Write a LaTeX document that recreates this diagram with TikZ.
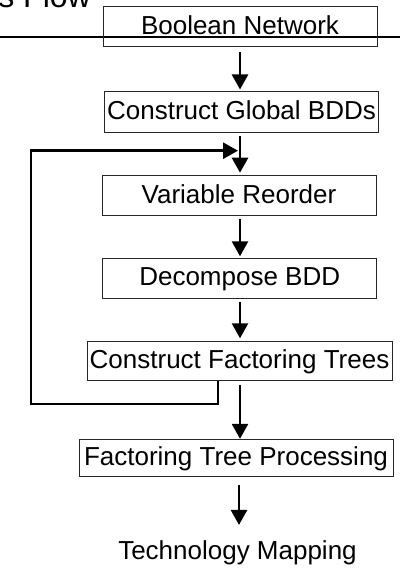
\documentclass[tikz,border=0pt]{standalone}
\usepackage{fontspec}
\setmainfont{Liberation Sans}
\usetikzlibrary{arrows.meta}
\tikzset{
  stagebox/.style={draw=black!85, line width=1pt, inner sep=0pt,
    minimum height=40pt, text height=18.7pt, text depth=4pt,
    font=\fontsize{26}{31}\selectfont},
  flow/.style={line width=2.6pt, -{Triangle[length=15pt,width=16pt]}},
}
\begin{document}
\begin{tikzpicture}[x=1pt,y=-1pt]
\useasboundingbox (0,0) rectangle (400,575);

% slide title (mostly above the page edge) and rule
\node[anchor=base east, inner sep=0pt, font=\fontsize{32}{38}\selectfont] (title) at (91,8) {s Flow};
\coordinate (ruleL) at (0,37);
\coordinate (ruleR) at (400,37);
\draw[line width=2pt] (ruleL) -- (ruleR);

% flow stages
\node[stagebox, minimum width=274pt] (bn)  at (240,27)    {Boolean Network};
\node[stagebox, minimum width=274pt] (cg)  at (241.5,112) {Construct Global BDDs};
\node[stagebox, minimum width=274pt] (vr)  at (239,195.7) {Variable Reorder};
\node[stagebox, minimum width=274pt] (db)  at (239.7,278.3) {Decompose BDD};
\node[stagebox, minimum width=305pt, minimum height=39pt] (cft) at (239.5,361.3) {Construct Factoring Trees};
\node[stagebox, minimum width=314pt, minimum height=37pt] (ftp) at (236,458.3) {Factoring Tree Processing};
\node[inner sep=0pt, anchor=base, font=\fontsize{26}{31}\selectfont] (tm) at (237.5,559) {Technology Mapping};

% arrow column and loop corners
\coordinate (ax) at (240,0);
\coordinate (bx) at (239,0);
\coordinate (fbx) at (218,0);
\coordinate (loopl) at (31,404);
\coordinate (join) at (238,150.7);

\draw[flow, shorten <=5pt, shorten >=2pt] (bn.south -| ax) -- (cg.north -| ax);
\draw[flow, shorten <=3pt, shorten >=2.5pt] (cg.south -| ax) -- (vr.north -| ax);
\draw[flow, shorten <=3pt, shorten >=1.5pt] (vr.south -| ax) -- (db.north -| ax);
\draw[flow, shorten <=3.5pt, shorten >=3pt] (db.south -| ax) -- (cft.north -| ax);
\draw[flow, shorten <=4pt, shorten >=0.5pt] (cft.south -| ax) -- (ftp.north -| ax);
\draw[flow, shorten <=8pt, shorten >=15pt] (ftp.south -| bx) -- (tm.north -| bx);

% feedback loop back to the reorder step
\draw[flow] (cft.south -| fbx) |- (loopl) |- (join);
\end{tikzpicture}
\end{document}
